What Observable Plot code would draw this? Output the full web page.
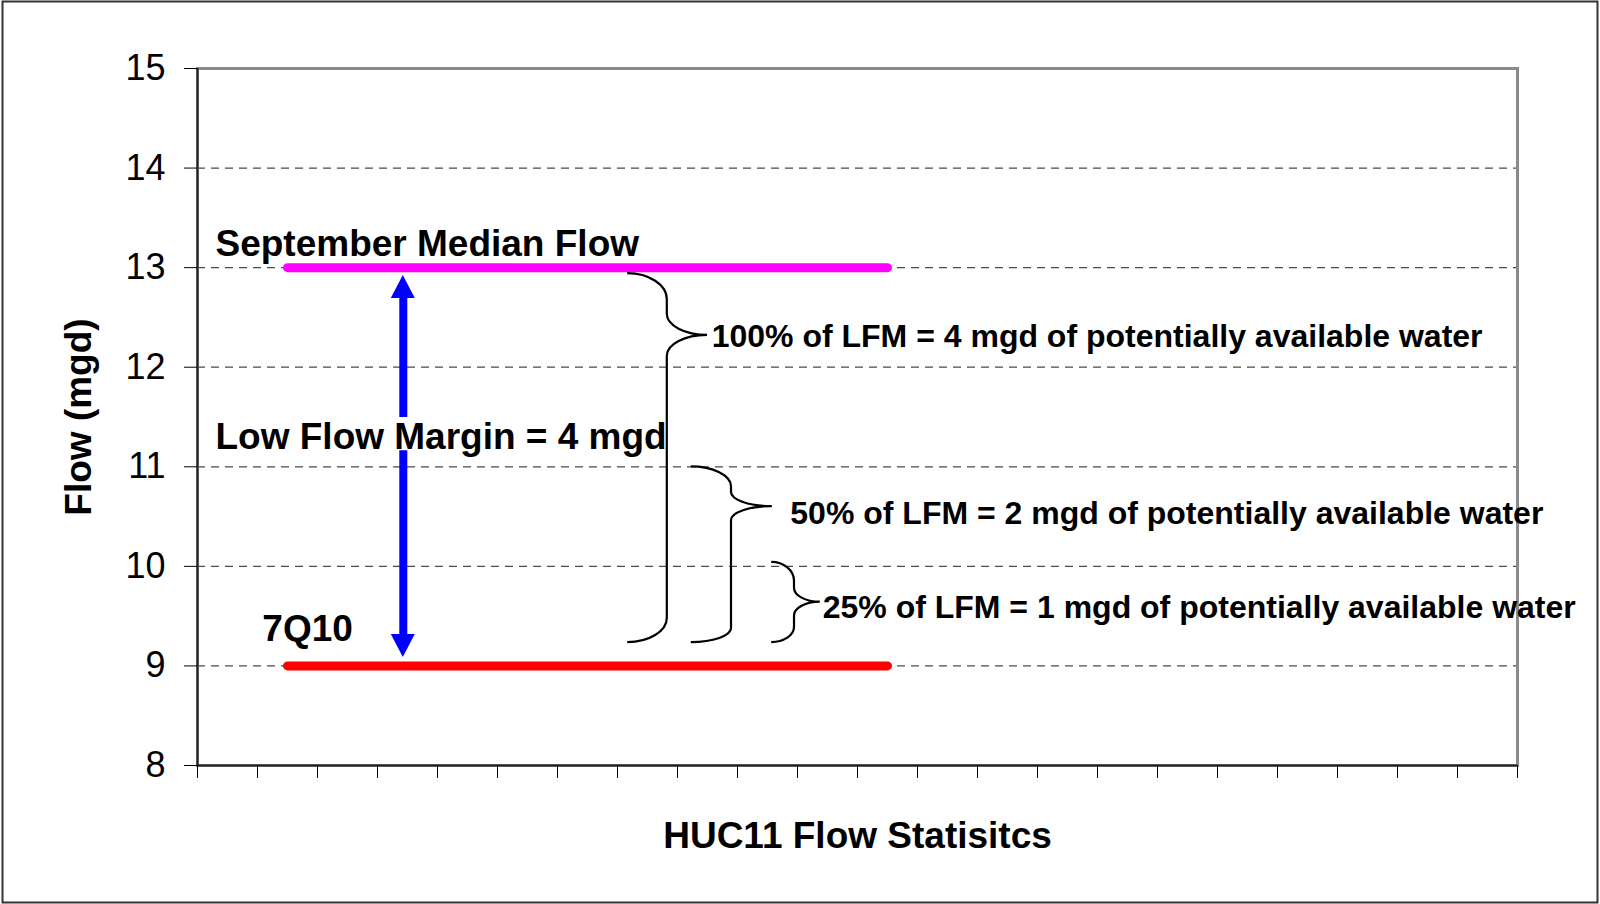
<!DOCTYPE html>
<html><head><meta charset="utf-8">
<script src="https://cdn.jsdelivr.net/npm/d3@7"></script>
<script src="https://cdn.jsdelivr.net/npm/@observablehq/plot@0.6"></script>
<style>
html,body{margin:0;padding:0;background:#fff;}
#chart svg{display:block;}
</style></head><body><div id="chart"></div>
<script>
// 22 unlabeled category slots on the x axis
const categories = ["c1","c2","c3","c4","c5","c6","c7","c8","c9","c10","c11","c12","c13","c14","c15","c16","c17","c18","c19","c20","c21","c22"];
const septemberMedianFlow = [null,13,13,13,13,13,13,13,13,13,13,13,null,null,null,null,null,null,null,null,null,null];
const flow7Q10 = [null,9,9,9,9,9,9,9,9,9,9,9,null,null,null,null,null,null,null,null,null,null];
const yTicks = [8,9,10,11,12,13,14,15];
const yTickLabels = ["8","9","10","11","12","13","14","15"];
const gridTicks = [9,10,11,12,13,14];
const xTicks = [0,1,2,3,4,5,6,7,8,9,10,11,12,13,14,15,16,17,18,19,20,21,22];

// Low Flow Margin arrow (data coordinates)
const marginArrow = {x: 3.43, top: 12.92, bottom: 9.085, gapTop: 11.495, gapBottom: 11.16};

// braces (data coordinates)
const braces = [
  {x0: 7.17, xs: 7.83, xp: 8.50, top: 12.94, tip: 12.32, bottom: 9.235, rTop: 26, rTip: 21, rBot: 24},
  {x0: 8.23, xs: 8.90, xp: 9.58, top: 11.00, tip: 10.60, bottom: 9.235, rTop: 20, rTip: 14, rBot: 14},
  {x0: 9.57, xs: 9.95, xp: 10.38, top: 10.04, tip: 9.64, bottom: 9.235, rTop: 19, rTip: 14, rBot: 15}
];

const bigLabels = [
  {text: "September Median Flow", x: 0.30, y: 13.12},
  {text: "Low Flow Margin = 4 mgd", x: 0.30, y: 11.18},
  {text: "7Q10", x: 1.08, y: 9.255}
];
const braceLabels = [
  {text: "100% of LFM = 4 mgd of potentially available water", x: 8.57, y: 12.20},
  {text: "50% of LFM = 2 mgd of potentially available water", x: 9.88, y: 10.43},
  {text: "25% of LFM = 1 mgd of potentially available water", x: 10.42, y: 9.48}
];

const rows = categories.map((c, i) => ({cat: c, pos: i + 0.5, sep: septemberMedianFlow[i], q: flow7Q10[i]}));

const NS = "http://www.w3.org/2000/svg";

function outerBorder(index, scales, values, dimensions) {
  const r = document.createElementNS(NS, "rect");
  r.setAttribute("x", 2.5); r.setAttribute("y", 1.5);
  r.setAttribute("width", dimensions.width - 5); r.setAttribute("height", dimensions.height - 3);
  r.setAttribute("fill", "none"); r.setAttribute("stroke", "#333"); r.setAttribute("stroke-width", 2);
  return r;
}

function arrowHeads(index, scales) {
  const {x, y} = scales;
  const g = document.createElementNS(NS, "g");
  const cx = x(marginArrow.x), hw = 12, hl = 23;
  const yt = y(marginArrow.top), yb = y(marginArrow.bottom);
  const pts = [
    [[cx, yt], [cx - hw, yt + hl], [cx + hw, yt + hl]],
    [[cx, yb], [cx - hw, yb - hl], [cx + hw, yb - hl]]
  ];
  for (const p of pts) {
    const poly = document.createElementNS(NS, "polygon");
    poly.setAttribute("points", p.map(d => d.join(",")).join(" "));
    poly.setAttribute("fill", "#0000ff");
    g.appendChild(poly);
  }
  return g;
}

function braceMarks(index, scales) {
  const {x, y} = scales;
  const g = document.createElementNS(NS, "g");
  const k = 0.5523;
  for (const b of braces) {
    const X0 = x(b.x0), XS = x(b.xs), XP = x(b.xp);
    const YT = y(b.top), YM = y(b.tip), YB = y(b.bottom);
    const d = [
      `M${X0},${YT}`,
      `C${X0 + k * (XS - X0)},${YT} ${XS},${YT + b.rTop * (1 - k)} ${XS},${YT + b.rTop}`,
      `L${XS},${YM - b.rTip}`,
      `C${XS},${YM - b.rTip * (1 - k)} ${XP - k * (XP - XS)},${YM} ${XP},${YM}`,
      `C${XP - k * (XP - XS)},${YM} ${XS},${YM + b.rTip * (1 - k)} ${XS},${YM + b.rTip}`,
      `L${XS},${YB - b.rBot}`,
      `C${XS},${YB - b.rBot * (1 - k)} ${X0 + k * (XS - X0)},${YB} ${X0},${YB}`
    ].join("");
    const p = document.createElementNS(NS, "path");
    p.setAttribute("d", d);
    p.setAttribute("fill", "none");
    p.setAttribute("stroke", "#000");
    p.setAttribute("stroke-width", 2.2);
    g.appendChild(p);
  }
  return g;
}

const chart = Plot.plot({
  width: 1600,
  height: 904,
  marginLeft: 197,
  marginRight: 83,
  marginTop: 68,
  marginBottom: 139,
  style: {fontFamily: "'Liberation Sans', Arial, sans-serif", background: "#fff", color: "#000"},
  x: {domain: [0, 22]},
  y: {domain: [8, 15]},
  marks: [
    outerBorder,
    Plot.ruleY(gridTicks, {stroke: "#4a4a4a", strokeWidth: 1.2, strokeDasharray: "8,6"}),
    Plot.frame({stroke: "#8a8a8a", strokeWidth: 3}),
    Plot.ruleX([0], {stroke: "#222", strokeWidth: 2}),
    Plot.ruleY([8], {stroke: "#222", strokeWidth: 2}),
    Plot.axisY({ticks: yTicks, tickFormat: d => yTickLabels[yTicks.indexOf(d)], tickSize: 13, tickPadding: 19, fontSize: 36, label: null, stroke: "#000", fill: "#000"}),
    Plot.axisX({ticks: xTicks, tickSize: 13, tickFormat: () => "", label: null, stroke: "#000"}),
    Plot.line(rows.filter(d => d.sep != null), {x: "pos", y: "sep", stroke: "#ff00ff", strokeWidth: 9, strokeLinecap: "round"}),
    Plot.line(rows.filter(d => d.q != null), {x: "pos", y: "q", stroke: "#ff0000", strokeWidth: 9, strokeLinecap: "round"}),
    Plot.ruleX([
      {x: marginArrow.x, y1: marginArrow.top - 0.15, y2: marginArrow.gapTop},
      {x: marginArrow.x, y1: marginArrow.gapBottom, y2: marginArrow.bottom + 0.15}
    ], {x: "x", y1: "y1", y2: "y2", stroke: "#0000ff", strokeWidth: 8}),
    arrowHeads,
    braceMarks,
    Plot.text(bigLabels, {x: "x", y: "y", text: "text", textAnchor: "start", lineAnchor: "bottom", fontSize: 37, fontWeight: "bold", fill: "#000"}),
    Plot.text(braceLabels, {x: "x", y: "y", text: "text", textAnchor: "start", lineAnchor: "bottom", fontSize: 32, fontWeight: "bold", fill: "#000"}),
    Plot.text(["Flow (mgd)"], {frameAnchor: "left", dx: -107, rotate: -90, textAnchor: "middle", lineAnchor: "bottom", fontSize: 37, fontWeight: "bold", fill: "#000"}),
    Plot.text(["HUC11 Flow Statisitcs"], {frameAnchor: "bottom", dy: 82, textAnchor: "middle", lineAnchor: "bottom", fontSize: 37, fontWeight: "bold", fill: "#000"})
  ]
});
document.getElementById("chart").appendChild(chart);
</script></body></html>
